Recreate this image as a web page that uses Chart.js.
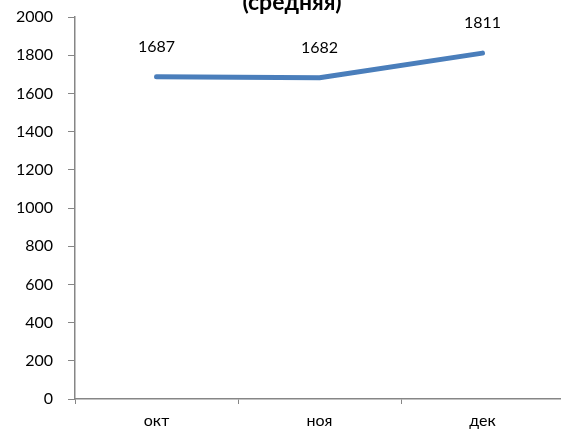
<!DOCTYPE html>
<html>
<head>
<meta charset="utf-8">
<script src="https://cdn.jsdelivr.net/npm/chart.js@4.4.1/dist/chart.umd.min.js"></script>
<style>
  html, body { margin: 0; padding: 0; background: #fff; overflow: hidden; }
  #wrap { width: 566px; height: 435px; }
</style>
</head>
<body>
<div id="wrap"><canvas id="chart" width="566" height="435"></canvas></div>
<script>
const months = ["окт", "ноя", "дек"];
const values = [1687, 1682, 1811];
const yTicks = [0, 200, 400, 600, 800, 1000, 1200, 1400, 1600, 1800, 2000];

const FONT = "Lato, 'Open Sans', sans-serif";
const AXIS = "#868686";

/* =========================
   TITLE (cut off at top) + POINT LABELS
========================= */

const titlePlugin = {
    id: "cutTitle",
    afterDraw(chart) {
        const ctx = chart.ctx;
        ctx.save();
        ctx.font = "bold 23px " + FONT;
        ctx.fillStyle = "#000";
        ctx.textAlign = "center";
        ctx.textBaseline = "alphabetic";
        ctx.fillText("(средняя)", 292, 10);
        ctx.restore();
    }
};

const valueLabels = {
    id: "valueLabels",
    afterDatasetsDraw(chart) {
        const ctx = chart.ctx;
        const meta = chart.getDatasetMeta(0);
        ctx.save();
        ctx.font = "16px " + FONT;
        ctx.fillStyle = "#000";
        ctx.textAlign = "center";
        ctx.textBaseline = "middle";
        meta.data.forEach((pt, i) => {
            ctx.fillText(String(values[i]), pt.x, pt.y - 30);
        });
        ctx.restore();
    }
};

new Chart(document.getElementById("chart").getContext("2d"), {
    type: "line",
    data: {
        labels: months,
        datasets: [{
            data: values,
            borderColor: "#4a7ebb",
            borderWidth: 5,
            pointRadius: 0,
            tension: 0,
            borderCapStyle: "round",
            borderJoinStyle: "round"
        }]
    },
    options: {
        responsive: false,
        animation: false,
        layout: { padding: { top: 17, left: 0, right: 2, bottom: 0 } },
        plugins: {
            legend: { display: false },
            tooltip: { enabled: false }
        },
        scales: {
            x: {
                offset: true,
                grid: {
                    offset: true,
                    drawOnChartArea: false,
                    drawTicks: true,
                    tickLength: 5,
                    color: AXIS
                },
                border: { color: AXIS, width: 1.5 },
                ticks: {
                    color: "#000",
                    padding: 7,
                    font: { family: FONT, size: 16 }
                },
                afterFit(scale) { scale.height = 36; }
            },
            y: {
                min: 0,
                max: 2000,
                afterBuildTicks(scale) {
                    scale.ticks = yTicks.map(v => ({ value: v }));
                },
                grid: {
                    drawOnChartArea: false,
                    drawTicks: true,
                    tickLength: 7,
                    color: AXIS
                },
                border: { color: AXIS, width: 1.5 },
                ticks: {
                    color: "#000",
                    padding: 15,
                    font: { family: FONT, size: 16, lineHeight: 1 },
                    callback: v => String(v)
                },
                afterFit(scale) {
                    scale.width = 75;
                    scale.paddingTop = 0;
                    scale.paddingBottom = 0;
                }
            }
        }
    },
    plugins: [titlePlugin, valueLabels]
});
</script>
</body>
</html>
